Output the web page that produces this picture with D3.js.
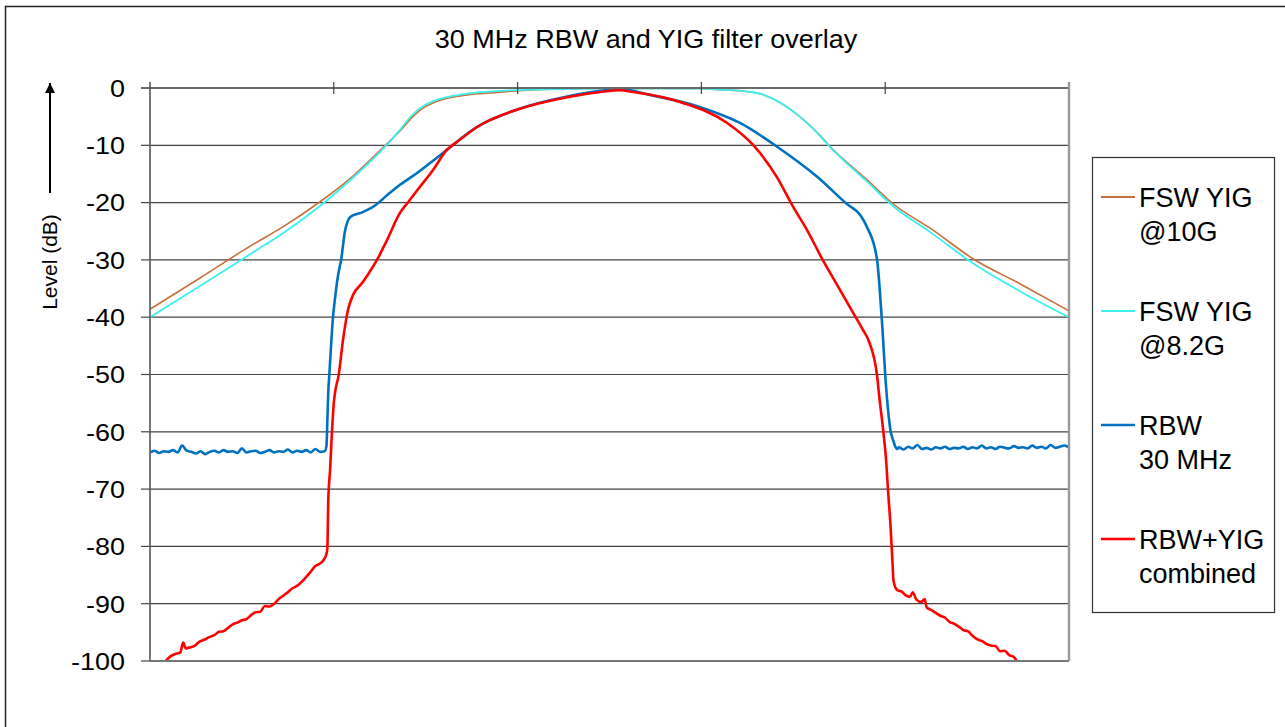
<!DOCTYPE html>
<meta charset="utf-8">
<style>
  body { margin: 0; background: #fff; }
  svg text { font-family: "Liberation Sans", Arial, sans-serif; fill: #000; }
</style>
<script src="https://cdn.jsdelivr.net/npm/d3@7"></script>
<body>
<div id="chart"></div>
<script>
// ---- data (x = frequency offset in MHz, y = level in dB) ----
const chartTitle = "30 MHz RBW and YIG filter overlay";
const yLabel = "Level (dB)";
const xTicks = [-50, -30, -10, 10, 30, 50];
const yTicks = [0, -10, -20, -30, -40, -50, -60, -70, -80, -90, -100];
const legendLabels = [["FSW YIG", "@10G"], ["FSW YIG", "@8.2G"], ["RBW", "30 MHz"], ["RBW+YIG", "combined"]];
const colors = ["#C8703A", "#3CF0F0", "#0070C0", "#FF0000"];

const yig10G = [
  [-50, -38.6], [-44.6, -33.2], [-39.1, -27.6], [-35.5, -24.2], [-31.8, -20.2], [-28, -15.5],
  [-24.4, -10.0], [-22.8, -7.5], [-21.4, -5.0], [-20.3, -3.5], [-19.2, -2.6], [-17.4, -1.7],
  [-15.5, -1.2], [-12.5, -0.8], [-10.1, -0.5], [-6.5, -0.2], [0, -0.1], [10, -0.1], [12, -0.3],
  [14.9, -0.6], [16.4, -1.0], [17.8, -1.9], [19.3, -3.3], [20.4, -4.6], [21.5, -6.1], [22.8, -8.1],
  [24, -10.2], [28, -16.0], [30.85, -20.2], [35.2, -24.8], [39.55, -29.8], [44.7, -34.2], [50, -38.9]
];

const yig8G = [
  [-50, -40], [-44.6, -34.6], [-39.1, -29.0], [-35.5, -25.3], [-31.2, -20.2], [-28, -15.8],
  [-24.4, -10.2], [-22.8, -7.3], [-21.4, -4.6], [-20.3, -3.2], [-19.2, -2.3], [-17.4, -1.5],
  [-15.5, -1.0], [-12, -0.5], [-8.3, -0.3], [0, -0.1], [10, -0.1], [12, -0.3], [14.9, -0.6],
  [16.4, -1.0], [17.8, -1.9], [19.3, -3.3], [20.4, -4.6], [21.5, -6.1], [22.8, -8.2], [24, -10.3],
  [28, -16.3], [30.85, -20.6], [35.2, -25.5], [39.55, -30.6], [44.7, -35.5], [50, -40]
];

const rbw30 = [
  [-50, -63.6], [-49.5, -63.3], [-49, -63.7], [-48.5, -63.4], [-48, -63.5], [-47.5, -63.2],
  [-47, -63.6], [-46.5, -62.4], [-46, -63.3], [-45.5, -63.5], [-45, -63.8], [-44.5, -63.4],
  [-44, -63.9], [-43.5, -63.5], [-43, -63.3], [-42.5, -63.6], [-42, -63.2], [-41.5, -63.5],
  [-41, -63.4], [-40.5, -63.7], [-40, -62.9], [-39.5, -63.6], [-39, -63.4], [-38.5, -63.3],
  [-38, -63.7], [-37.5, -63.5], [-37, -63.2], [-36.5, -63.6], [-36, -63.4], [-35.5, -63.5],
  [-35, -63.1], [-34.5, -63.6], [-34, -63.3], [-33.5, -63.5], [-33, -63.2], [-32.5, -63.6],
  [-32, -63.0], [-31.5, -63.5], [-31, -63.4], [-30.8, -62.5], [-30.7, -58], [-30.6, -53],
  [-30.5, -50.4], [-30.3, -45], [-30.1, -40.2], [-29.85, -36.5], [-29.65, -33.9], [-29.4, -31.5],
  [-29.2, -30], [-29.0, -27.5], [-28.8, -25.1], [-28.5, -23.3], [-28.2, -22.5], [-27.5, -22.0],
  [-26.9, -21.7], [-26.4, -21.3], [-25.7, -20.7], [-23.9, -18.3], [-22.8, -16.9],
  [-20.9, -14.8], [-19.2, -12.7], [-17.7, -10.8], [-14.4, -6.8], [-10.1, -3.8], [-4.6, -1.5],
  [-1.0, -0.5], [1.1, -0.2], [4.4, -1.2], [9.8, -3.3], [14.2, -6.1], [18.2, -10.2], [22.6, -15.5],
  [25.8, -20.2], [27.3, -22.2], [28.0, -24.2], [29.1, -29.8], [29.4, -35], [29.7, -42], [30.0, -50],
  [30.3, -56], [30.6, -60], [30.85, -61.4], [31.1, -62.6], [31.3, -63.0], [31.5, -62.7],
  [32, -63.1], [32.5, -62.6], [33, -62.9], [33.5, -62.3], [34, -63.0], [34.5, -62.8], [35, -63.1],
  [35.5, -62.7], [36, -62.9], [36.5, -62.6], [37, -63.0], [37.5, -62.8], [38, -62.9], [38.5, -62.6],
  [39, -63.0], [39.5, -62.7], [40, -62.9], [40.5, -62.4], [41, -62.9], [41.5, -62.7], [42, -63.0],
  [42.5, -62.6], [43, -62.8], [43.5, -62.9], [44, -62.5], [44.5, -62.8], [45, -62.7], [45.5, -62.9],
  [46, -62.4], [46.5, -62.8], [47, -62.6], [47.5, -62.9], [48, -62.3], [48.5, -62.8], [49, -62.6],
  [49.5, -62.4], [50, -62.7]
];

const combined = [
  [-48.3, -100], [-47.8, -99.2], [-47.3, -98.8], [-46.7, -98.5], [-46.4, -96.8], [-46.1, -97.8],
  [-45.6, -97.6], [-45.1, -97.3], [-44.6, -96.6], [-44.1, -96.3], [-43.5, -95.8], [-43.0, -95.5],
  [-42.5, -94.9], [-42.0, -94.8], [-41.5, -94.2], [-41.0, -93.6], [-40.5, -93.3], [-40.0, -92.9],
  [-39.5, -92.7], [-39.0, -92.0], [-38.5, -91.5], [-38.0, -91.4], [-37.5, -90.4], [-37.0, -90.5],
  [-36.5, -90.0], [-36.0, -89.2], [-35.5, -88.6], [-35.0, -88.0], [-34.5, -87.3], [-34.0, -86.9],
  [-33.5, -86.2], [-33.0, -85.3], [-32.5, -84.4], [-32.0, -83.4], [-31.5, -83.0], [-31.0, -82.1],
  [-30.8, -81.3], [-30.7, -80.3], [-30.6, -72], [-30.4, -66.5], [-30.2, -60], [-30.0, -55],
  [-29.8, -52.5], [-29.5, -50.4], [-29.0, -44], [-28.45, -38.7], [-27.9, -36.1], [-26.9, -34],
  [-26.3, -32.6], [-25.3, -30], [-24.2, -26.5], [-22.8, -21.8], [-22.0, -20.1], [-20.9, -17.8],
  [-19.2, -14.3], [-17.7, -10.8], [-16.6, -9.4], [-14.1, -6.5], [-10.1, -3.8], [-4.6, -1.6],
  [-1.0, -0.7], [1.1, -0.4], [2.6, -0.7], [8.0, -2.6], [12.8, -6.1], [15.6, -9.9], [18.2, -15.5],
  [20.0, -20.8], [21.5, -24.8], [23.2, -30], [25.0, -35], [26.5, -39.2], [27.5, -42], [28.3, -44.5],
  [29.1, -50], [29.4, -54.5], [29.8, -60], [30.1, -65], [30.3, -70], [30.6, -77], [30.8, -83],
  [30.9, -86], [31.3, -87.6], [31.8, -87.9], [32.2, -88.5], [32.7, -88.8], [33.0, -88.0],
  [33.4, -89.3], [33.9, -89.7], [34.3, -89.2], [34.5, -90.6], [35.0, -91.1], [35.5, -91.6],
  [36.0, -92.1], [36.5, -92.4], [37.0, -93.2], [37.5, -93.5], [38.0, -94.0], [38.5, -94.6],
  [39.0, -94.8], [39.5, -95.6], [40.0, -96.2], [40.5, -96.5], [41.0, -97.0], [41.5, -97.3],
  [42.0, -97.4], [42.5, -98.3], [43.0, -98.2], [43.5, -99.0], [44.0, -99.3], [44.3, -100]
];

const series = [yig10G, yig8G, rbw30, combined];
const widths = [1.6, 1.8, 2.6, 2.6];

// ---- layout ----
const W = 1285, H = 727;
const plot = {left: 150, right: 1069, top: 88, bottom: 661};

const svg = d3.select("#chart").append("svg")
  .attr("width", W).attr("height", H);

// outer frame (only left and top visible)
svg.append("rect")
  .attr("x", 5.5).attr("y", 6.5).attr("width", W + 20).attr("height", H + 20)
  .attr("fill", "none").attr("stroke", "#222").attr("stroke-width", 1.5);

const x = d3.scaleLinear().domain([-50, 50]).range([plot.left, plot.right]);
const y = d3.scaleLinear().domain([-100, 0]).range([plot.bottom, plot.top]);

// title
svg.append("text")
  .attr("transform", `translate(646,48) scale(1.08,1)`)
  .attr("text-anchor", "middle")
  .style("font-size", "25px")
  .text(chartTitle);

// horizontal grid lines
svg.append("g")
  .selectAll("line")
  .data(yTicks.filter(d => d !== 0 && d !== -100))
  .join("line")
  .attr("x1", plot.left).attr("x2", plot.right)
  .attr("y1", d => y(d)).attr("y2", d => y(d))
  .attr("stroke", "#444").attr("stroke-width", 1.2);

// y tick marks
svg.append("g")
  .selectAll("line")
  .data(yTicks)
  .join("line")
  .attr("x1", plot.left - 9).attr("x2", plot.left)
  .attr("y1", d => y(d)).attr("y2", d => y(d))
  .attr("stroke", "#444").attr("stroke-width", 1.2);

// y tick labels
svg.append("g")
  .selectAll("text")
  .data(yTicks)
  .join("text")
  .attr("transform", d => `translate(125,${y(d)}) scale(1.1,1)`)
  .attr("text-anchor", "end")
  .attr("dy", "0.36em")
  .style("font-size", "24.5px")
  .text(d => d);

// curves
const line = d3.line()
  .x(d => x(d[0]))
  .y(d => y(d[1]))
  .curve(d3.curveMonotoneX);

svg.append("g")
  .selectAll("path")
  .data(series)
  .join("path")
  .attr("d", line)
  .attr("fill", "none")
  .attr("stroke", (d, i) => colors[i])
  .attr("stroke-width", (d, i) => widths[i])
  .attr("stroke-linejoin", "round");

// axes frame: top axis (0 dB), bottom, left, right
svg.append("line")
  .attr("x1", plot.left - 9).attr("x2", plot.right)
  .attr("y1", y(0)).attr("y2", y(0))
  .attr("stroke", "#6a6a6a").attr("stroke-width", 2);
svg.append("line")
  .attr("x1", plot.left).attr("x2", plot.right)
  .attr("y1", y(-100)).attr("y2", y(-100))
  .attr("stroke", "#777").attr("stroke-width", 2);
svg.append("line")
  .attr("x1", plot.left).attr("x2", plot.left)
  .attr("y1", plot.top - 6).attr("y2", plot.bottom)
  .attr("stroke", "#555").attr("stroke-width", 1.6);
svg.append("line")
  .attr("x1", plot.right).attr("x2", plot.right)
  .attr("y1", plot.top - 6).attr("y2", plot.bottom)
  .attr("stroke", "#999").attr("stroke-width", 2.4);

// x ticks crossing the 0 dB axis
svg.append("g")
  .selectAll("line")
  .data(xTicks.slice(1, -1))
  .join("line")
  .attr("x1", d => x(d)).attr("x2", d => x(d))
  .attr("y1", y(0) - 6).attr("y2", y(0) + 6)
  .attr("stroke", "#444").attr("stroke-width", 1.2);

// y axis label with arrow
svg.append("text")
  .attr("transform", "translate(57,262) rotate(-90)")
  .attr("text-anchor", "middle")
  .style("font-size", "21px")
  .text(yLabel);

svg.append("defs").append("marker")
  .attr("id", "arrow")
  .attr("viewBox", "0 0 10 10")
  .attr("refX", 10).attr("refY", 5)
  .attr("markerWidth", 5).attr("markerHeight", 5)
  .attr("markerUnits", "strokeWidth")
  .attr("orient", "auto")
  .append("path")
  .attr("d", "M0,0 L10,5 L0,10 Z")
  .attr("fill", "#000");

svg.append("line")
  .attr("x1", 50).attr("x2", 50)
  .attr("y1", 193).attr("y2", 83)
  .attr("stroke", "#000").attr("stroke-width", 2)
  .attr("marker-end", "url(#arrow)");

// legend
const legend = svg.append("g");
legend.append("rect")
  .attr("x", 1092.5).attr("y", 157.5).attr("width", 182).attr("height", 455)
  .attr("fill", "#fff").attr("stroke", "#333").attr("stroke-width", 1.2);

const entry = legend.selectAll("g.entry")
  .data(legendLabels)
  .join("g")
  .attr("class", "entry")
  .attr("transform", (d, i) => `translate(0,${197 + i * 114})`);

entry.append("line")
  .attr("x1", 1101).attr("x2", 1135)
  .attr("y1", 0).attr("y2", 0)
  .attr("stroke", (d, i) => colors[i])
  .attr("stroke-width", (d, i) => i < 2 ? 2 : 2.6);

entry.append("text")
  .style("font-size", "27px")
  .selectAll("tspan")
  .data(d => d)
  .join("tspan")
  .attr("x", 1139)
  .attr("y", (d, j) => 10 + j * 34)
  .text(d => d);
</script>
</body>
